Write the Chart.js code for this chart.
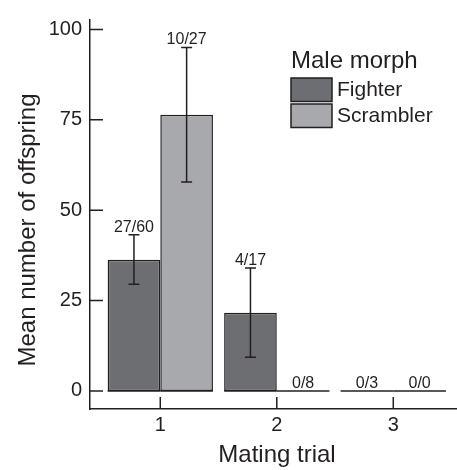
<!DOCTYPE html>
<html><head><meta charset="utf-8">
<script src="https://cdn.jsdelivr.net/npm/chart.js@4.4.0/dist/chart.umd.min.js"></script>
<style>html,body{margin:0;padding:0;background:#fff;} #wrap{width:457px;height:470px;}</style>
</head><body><div id="wrap"><canvas id="c" width="457" height="470"></canvas></div>
<script>
const trials = [1, 2, 3];
const trialLabels = ['1', '2', '3'];
const yTickValues = [0, 25, 50, 75, 100];
const yTickLabels = ['0', '25', '50', '75', '100'];
const seriesNames = ['Fighter', 'Scrambler'];
const fighterMean = [36.3, 21.6, 0];
const scramblerMean = [76.4, 0, 0];
const fighterErrLow = [29.5, 9.3, null];
const fighterErrHigh = [43.2, 34.0, null];
const scramblerErrLow = [57.8, null, null];
const scramblerErrHigh = [95.0, null, null];
const fighterCounts = ['27/60', '4/17', '0/3'];
const scramblerCounts = ['10/27', '0/8', '0/0'];
const legendTitle = 'Male morph';
const xTitle = 'Mating trial';
const yTitle = 'Mean number of offspring';

const INK = '#231f20';
const FIGHTER_COL = '#6d6e71';
const SCRAMBLER_COL = '#a7a9ac';
const FONT = "'Liberation Sans', Arial, Helvetica, sans-serif";

const extras = {
  id: 'extras',
  afterDatasetsDraw(chart) {
    const ctx = chart.ctx;
    const xs = chart.scales.x, ys = chart.scales.y;
    const area = chart.chartArea;
    ctx.save();
    ctx.strokeStyle = INK;
    ctx.lineWidth = 1.5;
    chart.data.datasets.forEach((ds, di) => {
      const meta = chart.getDatasetMeta(di);
      meta.data.forEach((bar, i) => {
        const p = bar.getProps(['x', 'y', 'base', 'width'], true);
        ctx.beginPath();
        ctx.moveTo(p.x - p.width / 2, p.base);
        ctx.lineTo(p.x + p.width / 2, p.base);
        ctx.stroke();
        const lo = ds.errLow[i], hi = ds.errHigh[i];
        let topY = p.y;
        if (lo != null && hi != null) {
          const yl = ys.getPixelForValue(lo), yh = ys.getPixelForValue(hi);
          ctx.beginPath();
          ctx.moveTo(p.x, yl); ctx.lineTo(p.x, yh);
          ctx.moveTo(p.x - 5.5, yl); ctx.lineTo(p.x + 5.5, yl);
          ctx.moveTo(p.x - 5.5, yh); ctx.lineTo(p.x + 5.5, yh);
          ctx.stroke();
          topY = yh;
        }
        ctx.fillStyle = INK;
        ctx.font = '16px ' + FONT;
        ctx.textAlign = 'center';
        ctx.textBaseline = 'alphabetic';
        ctx.fillText(ds.counts[i], p.x, topY - 3);
      });
    });
    // inward ticks
    ctx.beginPath();
    yTickValues.forEach(v => {
      const y = ys.getPixelForValue(v);
      ctx.moveTo(area.left, y); ctx.lineTo(area.left + 13, y);
    });
    trials.forEach(t => {
      const x = xs.getPixelForValue(t);
      ctx.moveTo(x, area.bottom); ctx.lineTo(x, area.bottom - 12);
    });
    ctx.stroke();
    // legend
    ctx.font = '24px ' + FONT;
    ctx.textAlign = 'left';
    ctx.textBaseline = 'alphabetic';
    ctx.fillStyle = INK;
    ctx.fillText(legendTitle, 291, 67.5);
    chart.data.datasets.forEach((ds, di) => {
      const by = 78 + di * 26;
      ctx.fillStyle = ds.backgroundColor;
      ctx.fillRect(291, by, 41, 23.5);
      ctx.strokeRect(291, by, 41, 23.5);
      ctx.fillStyle = INK;
      ctx.font = '21px ' + FONT;
      ctx.textBaseline = 'middle';
      ctx.fillText(ds.label, 337, by + 12);
    });
    // axis titles
    ctx.textBaseline = 'alphabetic';
    ctx.textAlign = 'center';
    ctx.font = '24px ' + FONT;
    ctx.fillText(xTitle, 277, 462);
    ctx.translate(35, 230);
    ctx.rotate(-Math.PI / 2);
    ctx.fillText(yTitle, 0, 0);
    ctx.restore();
  }
};

new Chart(document.getElementById('c'), {
  type: 'bar',
  data: {
    datasets: [
      {
        label: seriesNames[0],
        data: trials.map((t, i) => ({ x: t, y: fighterMean[i] })),
        backgroundColor: FIGHTER_COL,
        borderColor: INK,
        borderWidth: 1.5,
        borderSkipped: false,
        errLow: fighterErrLow, errHigh: fighterErrHigh, counts: fighterCounts
      },
      {
        label: seriesNames[1],
        data: trials.map((t, i) => ({ x: t, y: scramblerMean[i] })),
        backgroundColor: SCRAMBLER_COL,
        borderColor: INK,
        borderWidth: 1.5,
        borderSkipped: false,
        errLow: scramblerErrLow, errHigh: scramblerErrHigh, counts: scramblerCounts
      }
    ]
  },
  options: {
    responsive: false,
    animation: false,
    devicePixelRatio: 1,
    layout: { padding: { top: 10, right: 0, left: 0, bottom: 0 } },
    categoryPercentage: 0.904,
    barPercentage: 1,
    plugins: { legend: { display: false }, tooltip: { enabled: false } },
    scales: {
      x: {
        type: 'linear',
        min: 0.3966, max: 3.547,
        offset: false,
        afterBuildTicks: s => { s.ticks = trials.map(v => ({ value: v })); },
        ticks: {
          callback: v => trialLabels[trials.indexOf(v)],
          font: { size: 20, family: FONT }, color: INK, padding: 4, maxRotation: 0, autoSkip: false
        },
        grid: { display: false, drawTicks: false },
        border: { display: true, color: INK, width: 1.5 },
        afterFit: s => { s.height = 61; }
      },
      y: {
        type: 'linear',
        min: -5, max: 102.6,
        afterBuildTicks: s => { s.ticks = yTickValues.map(v => ({ value: v })); },
        ticks: {
          callback: v => yTickLabels[yTickValues.indexOf(v)],
          font: { size: 20, family: FONT }, color: INK, padding: 8, autoSkip: false
        },
        grid: { display: false, drawTicks: false },
        border: { display: true, color: INK, width: 1.5 },
        afterFit: s => { s.width = 90; }
      }
    }
  },
  plugins: [extras]
});
</script>
</body></html>
